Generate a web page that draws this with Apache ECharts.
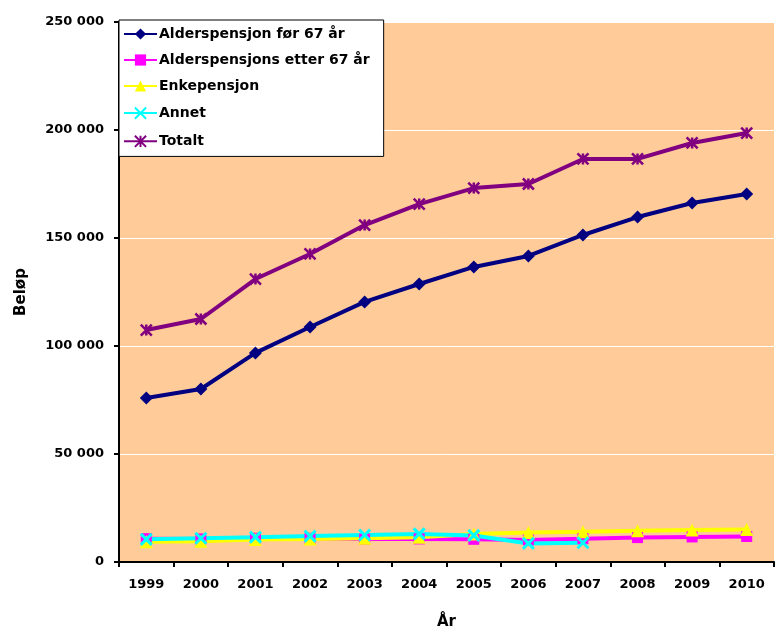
<!DOCTYPE html>
<html>
<head>
<meta charset="utf-8">
<script src="https://cdn.jsdelivr.net/npm/echarts@6/dist/echarts.min.js"></script>
<style>
  html, body { margin: 0; padding: 0; background: #fff; }
  #chart { width: 775px; height: 629px; }
</style>
</head>
<body>
<div id="chart"></div>
<script>
const years = ['1999', '2000', '2001', '2002', '2003', '2004', '2005', '2006', '2007', '2008', '2009', '2010']
const alderFor67 = [75900, 80100, 96800, 108800, 120400, 128700, 136600, 141700, 151400, 159700, 166200, 170400]
const alderEtter67 = [10800, 10700, 11000, 11000, 10600, 10700, 10500, 10200, 10800, 11300, 11600, 11800]
const enkepensjon = [9400, 9600, 10400, 10600, 11000, 11500, 13000, 13600, 14000, 14500, 14800, 15100]
const annet = [10500, 11000, 11500, 12000, 12500, 13000, 12300, 8600, 8900, null, null, null]
const totalt = [107400, 112500, 131000, 142600, 156000, 165700, 173100, 175000, 186600, 186600, 194000, 198600]

const crossPath = 'path://M0,0L10,10M10,0L0,10'
const starPath = 'path://M0,0L10,10M10,0L0,10M5,0L5,10'

function fmt(v) {
  return String(v).replace(/\B(?=(\d{3})+(?!\d))/g, ' ')
}

function line(name, data, color, symbol, size, extra) {
  return Object.assign({
    name: name,
    type: 'line',
    data: data,
    symbol: symbol,
    symbolSize: size,
    showSymbol: true,
    lineStyle: { color: color, width: 4 },
    itemStyle: { color: color },
    connectNulls: false,
    animation: false
  }, extra || {})
}

const chart = echarts.init(document.getElementById('chart'))
chart.setOption({
  backgroundColor: '#FFFFFF',
  textStyle: { fontFamily: 'DejaVu Sans, Arial, sans-serif' },
  grid: {
    left: 119,
    right: 1,
    top: 22,
    bottom: 67,
    outerBoundsMode: 'none',
    show: true,
    backgroundColor: '#FFCC99',
    borderWidth: 0
  },
  legend: {
    orient: 'vertical',
    left: 119,
    top: 20,
    width: 265,
    backgroundColor: '#FFFFFF',
    borderColor: '#000000',
    borderWidth: 1,
    padding: [7, 14, 7, 4],
    itemGap: 12,
    itemWidth: 33,
    itemHeight: 14,
    textStyle: { fontSize: 14, lineHeight: 14, fontWeight: 'bold', color: '#000', padding: [0, 0, 0, -3] },
    data: ['Alderspensjon før 67 år', 'Alderspensjons etter 67 år', 'Enkepensjon', 'Annet', 'Totalt']
  },
  xAxis: {
    type: 'category',
    data: years,
    boundaryGap: true,
    name: 'År',
    nameLocation: 'middle',
    nameGap: 53,
    nameTextStyle: { fontSize: 15, fontWeight: 'bold', color: '#000' },
    axisLine: { lineStyle: { color: '#000', width: 2 } },
    axisTick: { show: true, length: 5, lineStyle: { color: '#000', width: 2 } },
    axisLabel: { fontSize: 13, fontWeight: 'bold', color: '#000', margin: 16 },
    splitLine: { show: false }
  },
  yAxis: {
    type: 'value',
    min: 0,
    max: 250000,
    interval: 50000,
    name: 'Beløp',
    nameLocation: 'middle',
    nameGap: 90,
    nameRotate: 90,
    nameTextStyle: { fontSize: 15, fontWeight: 'bold', color: '#000' },
    axisLine: { show: true, lineStyle: { color: '#000', width: 2 } },
    axisTick: { show: true, length: 5, lineStyle: { color: '#000', width: 2 } },
    axisLabel: { fontSize: 13, fontWeight: 'bold', color: '#000', margin: 15, formatter: fmt },
    splitLine: { show: true, lineStyle: { color: '#FFFFFF', width: 1 } }
  },
  series: [
    line('Alderspensjon før 67 år', alderFor67, '#000080', 'diamond', 13),
    line('Alderspensjons etter 67 år', alderEtter67, '#FF00FF', 'rect', 11),
    line('Enkepensjon', enkepensjon, '#FFFF00', 'triangle', 13),
    line('Annet', annet, '#00FFFF', crossPath, 11, {
      itemStyle: { color: 'none', borderColor: '#00FFFF', borderWidth: 3 }
    }),
    line('Totalt', totalt, '#800080', starPath, 11, {
      itemStyle: { color: 'none', borderColor: '#800080', borderWidth: 2.5 }
    })
  ]
})
</script>
</body>
</html>
